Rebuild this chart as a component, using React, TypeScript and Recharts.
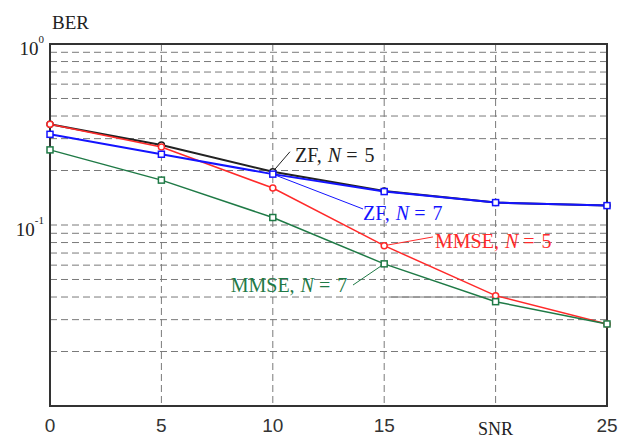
import {
  LineChart,
  Line,
  XAxis,
  YAxis,
  CartesianGrid,
  ReferenceArea,
  ReferenceLine,
  ReferenceDot,
} from "recharts";

/* ================= DATA ================= */
const snr = [0, 5, 10, 15, 20, 25];
const zfN5 = [0.36, 0.277, 0.197, 0.154, 0.133, 0.128];
const zfN7 = [0.317, 0.246, 0.191, 0.153, 0.133, 0.128];
const mmseN5 = [0.36, 0.27, 0.16, 0.0769, 0.0407, 0.0284];
const mmseN7 = [0.26, 0.177, 0.11, 0.061, 0.0377, 0.0284];

const xTicks = [0, 5, 10, 15, 20, 25];
const yGrid = [
  0.01, 0.02, 0.03, 0.04, 0.05, 0.06, 0.07, 0.08, 0.09,
  0.1, 0.2, 0.3, 0.4, 0.5, 0.6, 0.7, 0.8, 0.9, 1,
];
const yLabels: Record<string, string> = { "1": "0", "0.1": "-1" };

const rows = snr.map((s, i) => ({
  snr: s,
  zf5: zfN5[i],
  zf7: zfN7[i],
  mm5: mmseN5[i],
  mm7: mmseN7[i],
}));

/* ================= STYLE ================= */
const colors = {
  zf5: "#222222",
  zf7: "#1414ff",
  mm5: "#ff2a2a",
  mm7: "#1f7a46",
  grid: "#7a7a7a",
  frame: "#333333",
  text: "#222222",
};
const serif = { fontFamily: '"Liberation Serif", "DejaVu Serif", serif' };
const sans = { fontFamily: '"Liberation Sans", Arial, sans-serif' };

// annotation: label anchor + leader line (data coords)
const notes = [
  { name: "ZF", n: "5", color: colors.zf5, at: [11.0, 0.224], from: [10, 0.197], to: [10.77, 0.254] },
  { name: "ZF", n: "7", color: colors.zf7, at: [14.05, 0.107], from: [10, 0.191], to: [14.05, 0.1226] },
  { name: "MMSE", n: "5", color: colors.mm5, at: [17.28, 0.0746], from: [15, 0.0769], to: [17.19, 0.0859] },
  { name: "MMSE", n: "7", color: colors.mm7, at: [8.11, 0.0428], from: [13.6, 0.0466], to: [15, 0.061] },
];

/* ================= MARKERS ================= */
const circleDot = (color: string) => (p: any) => (
  <circle key={p.key} cx={p.cx} cy={p.cy} r={3} fill="#fff" stroke={color} strokeWidth={1.5} />
);
const squareDot = (color: string) => (p: any) => (
  <rect key={p.key} x={p.cx - 3} y={p.cy - 3} width={6} height={6} fill="#fff" stroke={color} strokeWidth={1.5} />
);

/* ================= TICKS ================= */
function YTick({ x, y, payload }: any) {
  const sup = yLabels[String(payload.value)];
  if (sup === undefined) return null;
  return (
    <text x={x - 6} y={y + 11} textAnchor="end" style={serif} fontSize={19} fill={colors.text}>
      10
      <tspan dy={-12} fontSize={11}>{sup}</tspan>
    </text>
  );
}

function XTick({ x, y, payload }: any) {
  if (payload.value === 20) {
    return (
      <text x={x} y={y + 29} textAnchor="middle" style={serif} fontSize={18} fill={colors.text}>
        SNR
      </text>
    );
  }
  return (
    <text x={x} y={y + 26} textAnchor="middle" style={sans} fontSize={19} fill="#333">
      {payload.value}
    </text>
  );
}

function NoteText({ cx, cy, name, n, color }: any) {
  return (
    <text x={cx} y={cy} style={serif} fontSize={20} fill={color}>
      {name},
      <tspan dx={6} fontStyle="italic">N</tspan>
      <tspan dx={5}>=</tspan>
      <tspan dx={7}>{n}</tspan>
    </text>
  );
}

/* ================= COMPONENT ================= */
export default function App() {
  return (
    <div style={{ width: 619, height: 439, background: "#fff" }}>
      <style>{"body{margin:0}"}</style>
      <LineChart width={619} height={439} data={rows} margin={{ top: 44, right: 12, bottom: 0, left: 0 }}>
        <CartesianGrid stroke={colors.grid} strokeDasharray="7 4" strokeWidth={1} />

        <XAxis
          dataKey="snr"
          type="number"
          domain={[0, 25]}
          ticks={xTicks}
          interval={0}
          height={33}
          tickSize={0}
          tickMargin={0}
          tick={<XTick />}
          axisLine={{ stroke: colors.frame, strokeWidth: 2 }}
        />
        <YAxis
          scale="log"
          domain={[0.01, 1]}
          allowDataOverflow
          ticks={yGrid}
          interval={0}
          width={50}
          tickSize={0}
          tickMargin={0}
          tick={<YTick />}
          axisLine={{ stroke: colors.frame, strokeWidth: 2 }}
        />

        {/* odd solid segment on the 0.04 grid line */}
        <ReferenceLine
          segment={[{ x: 15.2, y: 0.04 }, { x: 25, y: 0.04 }]}
          stroke={colors.grid}
          strokeWidth={1}
        />

        <ReferenceArea x1={0} x2={25} y1={0.01} y2={1} fill="none" stroke={colors.frame} strokeWidth={2} />

        <Line dataKey="zf5" stroke={colors.zf5} strokeWidth={2} dot={circleDot(colors.zf5)} isAnimationActive={false} />
        <Line dataKey="mm5" stroke={colors.mm5} strokeWidth={1.5} dot={circleDot(colors.mm5)} isAnimationActive={false} />
        <Line dataKey="zf7" stroke={colors.zf7} strokeWidth={2} dot={squareDot(colors.zf7)} isAnimationActive={false} />
        <Line dataKey="mm7" stroke={colors.mm7} strokeWidth={1.5} dot={squareDot(colors.mm7)} isAnimationActive={false} />

        {notes.map((nt, i) => (
          <ReferenceLine
            key={"l" + i}
            segment={[{ x: nt.from[0], y: nt.from[1] }, { x: nt.to[0], y: nt.to[1] }]}
            stroke={nt.color}
            strokeWidth={1}
          />
        ))}
        {notes.map((nt, i) => (
          <ReferenceDot
            key={"t" + i}
            x={nt.at[0]}
            y={nt.at[1]}
            r={0}
            shape={(p: any) => <NoteText cx={p.cx} cy={p.cy} name={nt.name} n={nt.n} color={nt.color} />}
          />
        ))}

        <text x={52} y={29} style={serif} fontSize={19} fill={colors.text}>
          BER
        </text>
      </LineChart>
    </div>
  );
}
